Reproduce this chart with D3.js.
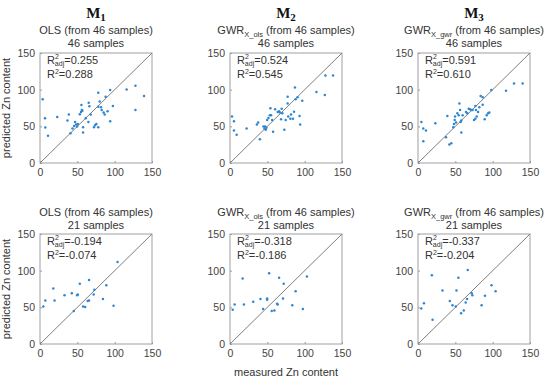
<!DOCTYPE html>
<html>
<head>
<meta charset="utf-8">
<script src="https://cdn.jsdelivr.net/npm/d3@7"></script>
<style>
  body { margin: 0; background: #fff; }
  text { font-family: "Liberation Sans", Arial, sans-serif; fill: #333; }
  .tick text { font-size: 10.5px; fill: #444; }
  .tick line { stroke: #999; }
  .domain { display: none; }
</style>
</head>
<body>
<svg id="chart"></svg>
<script>
// [measured, predicted] pairs
const ols46 = [[3.6,86.8],[6.7,61],[7.1,48.4],[10.7,37],[23,62.8],[36.8,57.8],[38.6,66],[40.8,40.7],[43.5,47],[45.7,50.6],
  [47,56],[48.4,52.4],[49.7,49.7],[50.6,53.3],[53.3,66.4],[55,69.6],[56,72.3],[55.5,79],[56.8,71.4],[57.7,41.6],
  [57.7,48.8],[61.3,61],[65.2,82.2],[64.8,56],[66.1,77.3],[67.9,66],[72.3,48.8],[73.7,51.5],[75.4,53.3],[78,95.8],
  [78,76.8],[78,48.8],[81.7,76],[82.6,72.3],[85.2,68.7],[86.6,66],[87.9,90.4],[90.5,70.5],[94,57],[94,99.4],
  [97.6,77.7],[116,100.3],[127.8,105.3],[127.8,72.3],[139.4,91.3],[79.9,84]];
const gwrOls46 = [[2.7,63.3],[5.3,56.9],[5.3,44.3],[8.9,38.4],[22.2,47],[36,52.4],[37.7,55.1],[40,32.5],[44.8,49.7],[46.2,47],
  [47,49.7],[47.9,45.2],[48.8,47.9],[49.7,58.7],[51.5,61.5],[53.3,65],[54.1,74.6],[55,65],[56.4,58.7],[57.7,42.5],
  [60.4,73.2],[63.9,69.6],[65.7,70.5],[66.6,68.7],[69.2,74.1],[68.4,59.6],[70.1,67.8],[72.8,45.2],[74.6,58.7],[77.2,81.3],
  [77.2,90.4],[78,63.3],[80.8,60.5],[81.7,66],[84.3,60.5],[85.7,70],[87,103],[87.9,86.8],[90.5,89.5],[93.2,64.2],
  [94,52.4],[96.8,85],[115.8,96.7],[127,92.6],[127.8,119.3],[138,119.3]];
const gwrGwr46 = [[4.5,56],[7.1,47],[10.7,44.3],[7.1,29.8],[23.2,54.2],[37.5,35.2],[39.3,64.2],[42,25.3],[44.6,27.1],[47.3,48.8],
  [48.2,53.3],[49.1,58.7],[49.6,63.3],[50.9,55.1],[52.7,67.8],[54.5,65],[55.4,81.3],[56.3,72.3],[57.1,56],[58,57.8],
  [58,41.6],[59.8,65],[64.3,69.6],[66.1,67.8],[67.9,74.1],[69.6,73.2],[71.4,72.3],[73.2,72.3],[75,58.7],[76.8,60.5],
  [78.6,63.3],[77.7,72.3],[80.4,69.6],[76.8,77.7],[82.1,76],[83.9,91.3],[86.6,89.5],[86.6,79.5],[89.3,59.6],[92,65],
  [93.8,67.8],[95.5,68.7],[98.2,99.4],[117.9,98.5],[128.6,108.4],[140.2,108.4]];
const ols21 = [[4.4,51.2],[7.1,59.4],[17.8,75.7],[19.5,59.4],[32.8,66.6],[42.6,69.3],[49.7,66.6],[50.6,67.5],[53.3,82],[45.3,44.9],
  [57.7,51.2],[60.4,50.3],[63.9,58.5],[65.7,59.4],[65.7,87.4],[71.9,67.5],[72.8,73.9],[84.3,61.2],[88.8,80.2],[98.5,52.1],
  [103.9,111.9]];
const gwrOls21 = [[3.6,46.7],[6.2,53.9],[16.9,89.3],[18.6,53.9],[31.1,57.5],[40.8,61.2],[44.4,47.6],[49.7,60.3],[49.7,62.1],[52.4,96.5],
  [55.9,44.9],[59.5,45.8],[63,54.8],[63.9,53.9],[65.7,90.2],[71,62.1],[71.9,82],[83.4,53],[87.9,72],[97.6,47.6],
  [103,92]];
const gwrGwr21 = [[4.4,48.5],[8,55.7],[18.6,93.8],[19.5,33.1],[32.8,72.9],[42.6,58.5],[46.2,53],[50.6,51.2],[51.5,72.9],[54.1,90.2],
  [57.7,42.1],[61.3,45.8],[63.9,56.6],[65.7,61.2],[66.6,101],[71.9,69.3],[72.8,66.6],[85.2,53],[89.7,65.7],[98.5,80.2],
  [103.9,72]];

const modelNames = ['1', '2', '3'];
const methods = [['OLS', ''], ['GWR', 'X_ols'], ['GWR', 'X_gwr']];
const sampleLabels = ['46 samples', '21 samples'];
const r2adj = [['0.255', '0.524', '0.591'], ['-0.194', '-0.318', '-0.337']];
const r2 = [['0.288', '0.545', '0.610'], ['-0.074', '-0.186', '-0.204']];
const ticks = [0, 50, 100, 150];
const panels = [[ols46, gwrOls46, gwrGwr46], [ols21, gwrOls21, gwrGwr21]];

const width = 550, height = 382;
const colX = [40, 230, 418];
const rowY = [53, 234];
const boxW = 112, boxH = 110;

const svg = d3.select('#chart').attr('width', width).attr('height', height);

const x = d3.scaleLinear().domain([0, 150]).range([0, boxW]);
const y = d3.scaleLinear().domain([0, 150]).range([boxH, 0]);

// model headers
modelNames.forEach((m, i) => {
  const t = svg.append('text')
    .attr('x', colX[i] + boxW / 2).attr('y', 18)
    .attr('text-anchor', 'middle')
    .style('font-family', '"Liberation Serif", "Times New Roman", serif')
    .style('font-weight', 'bold').style('font-size', '15px').style('fill', '#111');
  t.append('tspan').text('M');
  t.append('tspan').attr('dy', 3).style('font-size', '11px').text(m);
});

panels.forEach((row, r) => {
  row.forEach((data, c) => {
    const g = svg.append('g').attr('transform', `translate(${colX[c]},${rowY[r]})`);

    // method title
    const title = g.append('text')
      .attr('x', boxW / 2).attr('y', r === 0 ? -19 : -18)
      .attr('text-anchor', 'middle').style('font-size', '11px');
    title.append('tspan').text(methods[c][0]);
    if (methods[c][1]) {
      title.append('tspan').attr('dy', 3).style('font-size', '7.5px').text(methods[c][1]);
      title.append('tspan').attr('dy', -3).text(' (from 46 samples)');
    } else {
      title.append('tspan').text(' (from 46 samples)');
    }
    g.append('text')
      .attr('x', boxW / 2).attr('y', r === 0 ? -6 : -5)
      .attr('text-anchor', 'middle').style('font-size', '11px')
      .text(sampleLabels[r]);

    // axes
    g.append('g').attr('class', 'axis')
      .attr('transform', `translate(0,${boxH})`)
      .call(d3.axisBottom(x).tickValues(ticks).tickSizeInner(-2).tickSizeOuter(0).tickPadding(6));
    g.append('g').attr('class', 'axis')
      .call(d3.axisLeft(y).tickValues(ticks).tickSizeInner(-2).tickSizeOuter(0).tickPadding(5));

    // box
    g.append('rect').attr('width', boxW).attr('height', boxH)
      .attr('fill', 'none').attr('stroke', '#a0a0a0').attr('stroke-width', 1);

    // 1:1 line
    g.append('line')
      .attr('x1', x(0)).attr('y1', y(0)).attr('x2', x(150)).attr('y2', y(150))
      .attr('stroke', '#7f7f7f').attr('stroke-width', 1);

    // points
    g.selectAll('circle.pt').data(data).enter().append('circle')
      .attr('class', 'pt')
      .attr('cx', d => x(d[0])).attr('cy', d => y(d[1]))
      .attr('r', 1.25).attr('fill', '#2f86d0');

    // R2 annotations
    const a = g.append('text').attr('x', 7).attr('y', 11).style('font-size', '11px');
    a.append('tspan').text('R');
    a.append('tspan').attr('dy', -5).style('font-size', '7px').text('2');
    a.append('tspan').attr('dx', -4).attr('dy', 7).style('font-size', '7px').text('adj');
    a.append('tspan').attr('dy', -2).text('=' + r2adj[r][c]);
    const b = g.append('text').attr('x', 7).attr('y', 25).style('font-size', '11px');
    b.append('tspan').text('R');
    b.append('tspan').attr('dy', -4).style('font-size', '7px').text('2');
    b.append('tspan').attr('dy', 4).text('=' + r2[r][c]);

    if (c === 0) {
      g.append('text')
        .attr('transform', `translate(-30,${boxH / 2}) rotate(-90)`)
        .attr('text-anchor', 'middle').style('font-size', '11px')
        .text('predicted Zn content');
    }
    if (r === 1 && c === 1) {
      g.append('text')
        .attr('x', boxW / 2).attr('y', boxH + 32)
        .attr('text-anchor', 'middle').style('font-size', '11px')
        .text('measured Zn content');
    }
  });
});
</script>
</body>
</html>
